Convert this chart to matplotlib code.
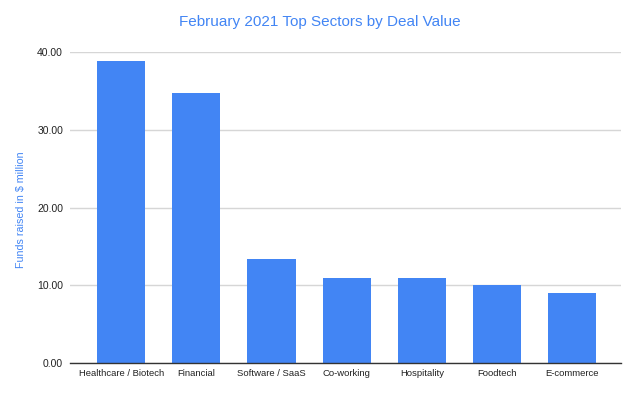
import matplotlib.pyplot as plt
from matplotlib.ticker import FuncFormatter

sectors = ['Healthcare / Biotech', 'Financial', 'Software / SaaS', 'Co-working',
           'Hospitality', 'Foodtech', 'E-commerce']
funds = [38.8, 34.7, 13.4, 11.0, 11.0, 10.0, 8.97]

plt.rcParams['font.family'] = ['Liberation Sans', 'DejaVu Sans']

blue = '#4285F4'
fig = plt.figure(figsize=(6.4, 3.95), dpi=100)
ax = fig.add_axes([0.1094, 0.0803, 0.8609, 0.7887])

ax.bar(range(len(sectors)), funds, width=0.64, color=blue, zorder=3)

ax.set_xlim(-0.68, 6.65)
ax.set_ylim(0, 40)
ax.set_yticks([0, 10, 20, 30, 40])
ax.yaxis.set_major_formatter(FuncFormatter(lambda v, p: f'{v:.2f}'))
ax.set_xticks(range(len(sectors)))
ax.set_xticklabels(sectors)
ax.tick_params(axis='both', length=0, colors='#222222')
ax.tick_params(axis='x', pad=4, labelsize=6.8)
ax.tick_params(axis='y', pad=5, labelsize=7.5)

ax.grid(axis='y', color='#d6d6d6', linewidth=1, zorder=0)
for s in ['top', 'right', 'left']:
    ax.spines[s].set_visible(False)
ax.spines['bottom'].set_color('#333333')
ax.spines['bottom'].set_linewidth(1)
ax.spines['bottom'].set_zorder(4)

fig.text(0.5, 0.944, 'February 2021 Top Sectors by Deal Value', ha='center', va='center',
         fontsize=11, color=blue)
fig.text(0.033, 0.468, 'Funds raised in $ million', ha='center', va='center',
         rotation=90, fontsize=7.7, color=blue)

fig.savefig('out.png', dpi=100)
